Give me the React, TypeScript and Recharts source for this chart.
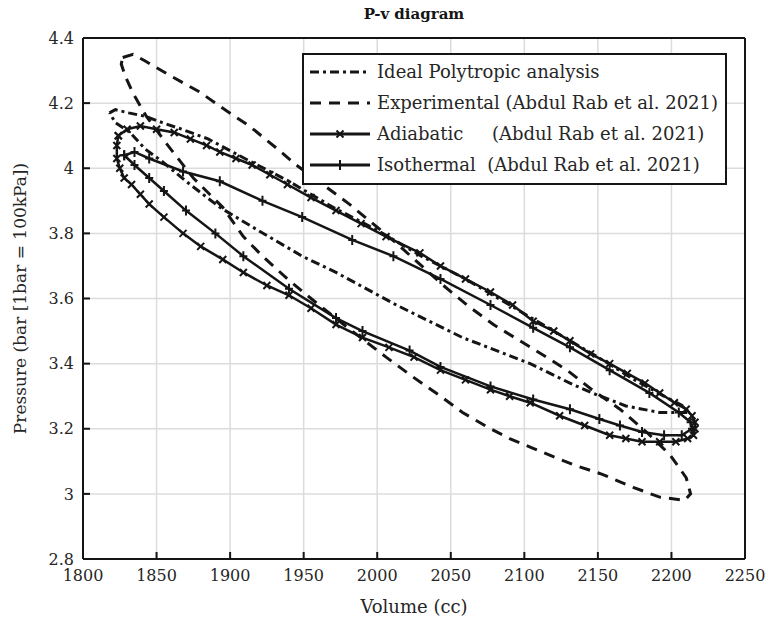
import { ScatterChart, Scatter, XAxis, YAxis, CartesianGrid, Legend } from 'recharts';

const FONT = '"DejaVu Serif", serif';
const INK = '#151515';

const xTicks = [1800, 1850, 1900, 1950, 2000, 2050, 2100, 2150, 2200, 2250];
const yTicks = [2.8, 3, 3.2, 3.4, 3.6, 3.8, 4, 4.2, 4.4];

// Experimental loop (dashed), read clockwise from the top-left corner
const expV = [1827, 1834, 1842, 1861, 1879, 1898, 1913, 1932, 1945, 1966, 1981, 2013, 2045, 2061, 2079, 2097, 2115, 2129, 2146, 2165, 2183, 2199, 2210, 2213, 2209, 2192, 2174, 2153, 2133, 2106, 2090, 2077, 2058, 2043, 2024, 2006, 1980, 1955, 1939, 1922, 1909, 1895, 1875, 1856, 1843, 1834, 1829, 1826, 1827];
const expP = [4.34, 4.35, 4.33, 4.28, 4.235, 4.175, 4.13, 4.06, 4.01, 3.94, 3.89, 3.77, 3.64, 3.58, 3.52, 3.47, 3.42, 3.38, 3.32, 3.26, 3.19, 3.12, 3.05, 3.0, 2.98, 2.99, 3.02, 3.06, 3.09, 3.14, 3.17, 3.2, 3.25, 3.3, 3.36, 3.42, 3.51, 3.6, 3.66, 3.73, 3.79, 3.88, 3.97, 4.08, 4.16, 4.23, 4.28, 4.32, 4.34];

// Ideal polytropic loop (dash-dot)
const idealV = [1818, 1822, 1831, 1842, 1854, 1867, 1885, 1910, 1940, 1970, 2000, 2030, 2060, 2090, 2120, 2150, 2175, 2195, 2208, 2212, 2206, 2192, 2169, 2146, 2131, 2104, 2058, 2013, 1972, 1949, 1915, 1893, 1870, 1854, 1842, 1832, 1822, 1818];
const idealP = [4.17, 4.18, 4.17, 4.16, 4.14, 4.12, 4.09, 4.03, 3.96, 3.88, 3.81, 3.73, 3.66, 3.58, 3.5, 3.42, 3.35, 3.3, 3.27, 3.25, 3.25, 3.25, 3.27, 3.31, 3.34, 3.4, 3.48, 3.58, 3.68, 3.73, 3.82, 3.88, 3.96, 4.02, 4.06, 4.11, 4.14, 4.17];

// Adiabatic loop (solid, x markers)
const adiaV = [1824, 1830, 1839, 1850, 1862, 1873, 1884, 1893, 1904, 1915, 1927, 1939, 1955, 1972, 1989, 2006, 2029, 2043, 2060, 2077, 2092, 2106, 2120, 2131, 2145, 2158, 2170, 2182, 2192, 2202, 2210, 2214, 2216, 2216, 2215, 2211, 2203, 2192, 2180, 2169, 2158, 2141, 2124, 2104, 2090, 2077, 2060, 2043, 2025, 2008, 1990, 1972, 1955, 1940, 1925, 1909, 1895, 1880, 1868, 1855, 1845, 1839, 1833, 1828, 1825, 1823, 1823, 1824];
const adiaP = [4.1, 4.12, 4.13, 4.12, 4.11, 4.09, 4.07, 4.05, 4.03, 4.01, 3.98, 3.95, 3.91, 3.87, 3.83, 3.79, 3.74, 3.7, 3.66, 3.62, 3.58, 3.53, 3.5, 3.47, 3.43, 3.4, 3.37, 3.34, 3.31, 3.28, 3.26, 3.24, 3.22, 3.2, 3.18, 3.17, 3.16, 3.16, 3.16, 3.17, 3.18, 3.21, 3.24, 3.28, 3.3, 3.32, 3.35, 3.38, 3.42, 3.45, 3.48, 3.52, 3.57, 3.61, 3.64, 3.68, 3.72, 3.76, 3.8, 3.85, 3.89, 3.92, 3.95, 3.97, 4.0, 4.03, 4.07, 4.1];

// Isothermal loop (solid, + markers)
const isoV = [1828, 1835, 1845, 1868, 1893, 1922, 1949, 1983, 2011, 2043, 2077, 2106, 2131, 2158, 2185, 2205, 2213, 2214, 2207, 2195, 2180, 2165, 2151, 2131, 2106, 2077, 2043, 2022, 1990, 1972, 1940, 1909, 1890, 1870, 1855, 1845, 1835, 1828];
const isoP = [4.04, 4.05, 4.03, 3.99, 3.96, 3.9, 3.85, 3.78, 3.73, 3.66, 3.58, 3.51, 3.45, 3.38, 3.31, 3.25, 3.22, 3.2, 3.18, 3.18, 3.19, 3.21, 3.23, 3.26, 3.29, 3.33, 3.39, 3.44, 3.5, 3.54, 3.63, 3.73, 3.8, 3.87, 3.93, 3.97, 4.01, 4.04];

const toPoints = (vs: number[], ps: number[]) => vs.map((v, i) => ({ v, p: ps[i] }));

const XMark = ({ cx, cy }: any) => (
  <path d={`M${cx - 3.5},${cy - 3.5}L${cx + 3.5},${cy + 3.5}M${cx - 3.5},${cy + 3.5}L${cx + 3.5},${cy - 3.5}`} stroke={INK} strokeWidth={2} />
);
const PlusMark = ({ cx, cy }: any) => (
  <path d={`M${cx - 4},${cy}L${cx + 4},${cy}M${cx},${cy - 5}L${cx},${cy + 5}`} stroke={INK} strokeWidth={2} />
);
const NoMark = () => <g />;

const series = [
  { name: 'Ideal Polytropic analysis', dash: '9 4 3 4', mark: null },
  { name: 'Experimental (Abdul Rab et al. 2021)', dash: '11 8', mark: null },
  { name: 'Adiabatic     (Abdul Rab et al. 2021)', dash: undefined, mark: 'x' },
  { name: 'Isothermal  (Abdul Rab et al. 2021)', dash: undefined, mark: '+' },
];

function LegendBox() {
  return (
    <div style={{ boxSizing: 'border-box', width: 425, border: `2px solid ${INK}`, background: '#fff', padding: '1px 6px 3px 5px', fontFamily: FONT, fontSize: 18, color: '#262626' }}>
      {series.map(s => (
        <div key={s.name} style={{ display: 'flex', alignItems: 'center', height: 31 }}>
          <svg width={62} height={14} style={{ flexShrink: 0 }}>
            <line x1={1} y1={7} x2={61} y2={7} stroke={INK} strokeWidth={3} strokeDasharray={s.dash} />
            {s.mark === 'x' && <XMark cx={31} cy={7} />}
            {s.mark === '+' && <PlusMark cx={31} cy={7} />}
          </svg>
          <span style={{ marginLeft: 6, whiteSpace: 'pre' }}>{s.name}</span>
        </div>
      ))}
    </div>
  );
}

const tickStyle = { fill: '#262626', fontSize: 16, fontFamily: FONT };

export default function App() {
  return (
    <div style={{ position: 'absolute', left: 0, top: 0, background: '#fff' }}>
      <ScatterChart width={768} height={625} margin={{ top: 0, right: 0, bottom: 0, left: 0 }} style={{ fontFamily: FONT }}>
        <CartesianGrid stroke="#dcdcdc" strokeWidth={1.5} />
        <XAxis
          type="number"
          dataKey="v"
          domain={[1800, 2250]}
          ticks={xTicks}
          height={66}
          tick={tickStyle}
          tickSize={-7}
          tickMargin={18}
          axisLine={{ stroke: INK, strokeWidth: 2 }}
          tickLine={{ stroke: INK, strokeWidth: 2 }}
          label={{ value: 'Volume (cc)', position: 'insideBottom', offset: 12, fill: '#262626', fontSize: 18, fontFamily: FONT }}
        />
        <XAxis
          xAxisId="top"
          orientation="top"
          type="number"
          domain={[1800, 2250]}
          ticks={xTicks}
          height={38}
          tick={false}
          tickSize={-7}
          axisLine={{ stroke: INK, strokeWidth: 2 }}
          tickLine={{ stroke: INK, strokeWidth: 2 }}
          label={{ value: 'P-v diagram', position: 'insideTop', offset: 8, fill: '#151515', fontSize: 15, fontWeight: 'bold', fontFamily: FONT }}
        />
        <YAxis
          type="number"
          dataKey="p"
          domain={[2.8, 4.4]}
          ticks={yTicks}
          width={83}
          tick={tickStyle}
          tickSize={-7}
          tickMargin={16}
          axisLine={{ stroke: INK, strokeWidth: 2 }}
          tickLine={{ stroke: INK, strokeWidth: 2 }}
          label={{
            content: ({ viewBox }: any) => (
              <text
                x={viewBox.x + 20}
                y={viewBox.y + viewBox.height / 2}
                transform={`rotate(-90 ${viewBox.x + 20} ${viewBox.y + viewBox.height / 2})`}
                textAnchor="middle"
                dominantBaseline="central"
                fill="#262626"
                fontSize={17}
                fontFamily={FONT}
              >
                Pressure (bar [1bar = 100kPa])
              </text>
            ),
          }}
        />
        <YAxis
          yAxisId="right"
          orientation="right"
          type="number"
          domain={[2.8, 4.4]}
          ticks={yTicks}
          width={23}
          tick={false}
          tickSize={-7}
          axisLine={{ stroke: INK, strokeWidth: 2 }}
          tickLine={{ stroke: INK, strokeWidth: 2 }}
        />
        <Scatter data={toPoints(expV, expP)} fill={INK} shape={NoMark} line={{ stroke: INK, strokeWidth: 3, strokeDasharray: '11 8' }} isAnimationActive={false} />
        <Scatter data={toPoints(idealV, idealP)} fill={INK} shape={NoMark} line={{ stroke: INK, strokeWidth: 3, strokeDasharray: '9 4 3 4' }} isAnimationActive={false} />
        <Scatter data={toPoints(adiaV, adiaP)} fill={INK} shape={XMark} line={{ stroke: INK, strokeWidth: 2.5 }} isAnimationActive={false} />
        <Scatter data={toPoints(isoV, isoP)} fill={INK} shape={PlusMark} line={{ stroke: INK, strokeWidth: 2.5 }} isAnimationActive={false} />
        <Legend
          layout="vertical"
          align="center"
          verticalAlign="middle"
          content={() => <LegendBox />}
          wrapperStyle={{ left: 302, top: 53, width: 'auto' }}
        />
      </ScatterChart>
    </div>
  );
}
